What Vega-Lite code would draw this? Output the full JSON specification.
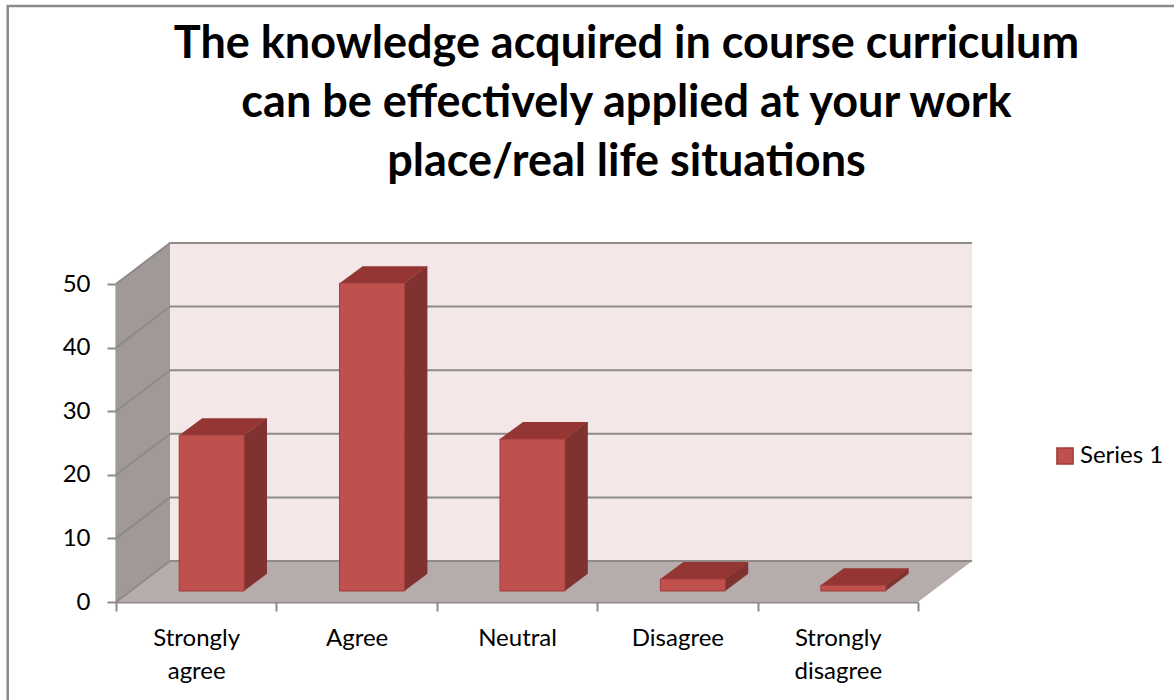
{
"$schema":"https://vega.github.io/schema/vega-lite/v6.json",
"width":857,"height":359,
"autosize":{"type":"none"},
"padding":{"left":116,"top":243,"right":201,"bottom":98},
"background":"white",
"config":{"view":{"stroke":null},"font":"Lato"},
"title":{"text":["The knowledge acquired in course curriculum","can be effectively applied at your work","place/real life situations"],"fontSize":45,"fontWeight":"bold","font":"Lato","color":"black","anchor":"middle","frame":"group","dx":82,"lineHeight":59,"offset":-184},
"datasets":{
"bars":[
{"category":"Strongly agree","series":"Series 1","value":24.5},
{"category":"Agree","series":"Series 1","value":48.4},
{"category":"Neutral","series":"Series 1","value":23.9},
{"category":"Disagree","series":"Series 1","value":1.9},
{"category":"Strongly disagree","series":"Series 1","value":0.9}],
"sides":[
{"category":"Strongly agree","edge":"front","top":24.5,"base":0},
{"category":"Strongly agree","edge":"back","top":27.2,"base":2.7},
{"category":"Agree","edge":"front","top":48.4,"base":0},
{"category":"Agree","edge":"back","top":51.1,"base":2.7},
{"category":"Neutral","edge":"front","top":23.9,"base":0},
{"category":"Neutral","edge":"back","top":26.6,"base":2.7},
{"category":"Disagree","edge":"front","top":1.9,"base":0},
{"category":"Disagree","edge":"back","top":4.6,"base":2.7},
{"category":"Strongly disagree","edge":"front","top":0.9,"base":0},
{"category":"Strongly disagree","edge":"back","top":3.6,"base":2.7}],
"walls":[
{"face":"left","u":0,"low":0,"high":50},
{"face":"left","u":0.337,"low":6.45,"high":56.45},
{"face":"back","u":0.337,"low":6.45,"high":56.45},
{"face":"back","u":5.337,"low":6.45,"high":56.45},
{"face":"floor","u":0,"low":0,"high":0},
{"face":"floor","u":0.337,"low":0,"high":6.45},
{"face":"floor","u":5,"low":0,"high":6.45},
{"face":"floor","u":5.337,"low":6.45,"high":6.45}],
"grid":[
{"g":0,"u":0,"v":0},{"g":0,"u":0.337,"v":6.45},{"g":0,"u":5.337,"v":6.45},
{"g":10,"u":0,"v":10},{"g":10,"u":0.337,"v":16.45},{"g":10,"u":5.337,"v":16.45},
{"g":20,"u":0,"v":20},{"g":20,"u":0.337,"v":26.45},{"g":20,"u":5.337,"v":26.45},
{"g":30,"u":0,"v":30},{"g":30,"u":0.337,"v":36.45},{"g":30,"u":5.337,"v":36.45},
{"g":40,"u":0,"v":40},{"g":40,"u":0.337,"v":46.45},{"g":40,"u":5.337,"v":46.45},
{"g":50,"u":0,"v":50},{"g":50,"u":0.337,"v":56.45},{"g":50,"u":5.337,"v":56.45}],
"frame":[
{"u":-0.675,"v":-15.4},{"u":-0.675,"v":93.7},{"u":6.64,"v":93.7}]
},
"layer":[
{"layer":[
{"data":{"name":"walls"},"transform":[{"filter":"datum.face==='left'"}],
 "mark":{"type":"area","color":"#a09997"},
 "encoding":{"x":{"field":"u","type":"quantitative","axis":null,"scale":{"domain":[0,5],"range":[0,802],"nice":false,"zero":false}},
 "y":{"field":"high","type":"quantitative","scale":{"domain":[0,50],"range":[359,41],"nice":false},
 "axis":{"title":null,"values":[0,10,20,30,40,50],"grid":false,"labelFontSize":24,"labelFont":"Lato","labelColor":"black","labelPadding":17,"domainColor":"#8e8a88","domainWidth":2,"tickColor":"#8e8a88","tickWidth":2,"tickSize":9}},"y2":{"field":"low"}}},
{"data":{"name":"walls"},"transform":[{"filter":"datum.face==='back'"}],
 "mark":{"type":"area","color":"#f3e8e7"},
 "encoding":{"x":{"field":"u","type":"quantitative"},
 "y":{"field":"high","type":"quantitative"},"y2":{"field":"low"}}},
{"data":{"name":"walls"},"transform":[{"filter":"datum.face==='floor'"}],
 "mark":{"type":"area","color":"#b5acab"},
 "encoding":{"x":{"field":"u","type":"quantitative"},
 "y":{"field":"high","type":"quantitative"},"y2":{"field":"low"}}},
{"data":{"name":"grid"},
 "mark":{"type":"line","color":"#8e8a88","strokeWidth":2},
 "encoding":{"x":{"field":"u","type":"quantitative"},
 "y":{"field":"v","type":"quantitative"},"detail":{"field":"g"},"order":{"field":"u"}}},
{"data":{"name":"frame"},
 "mark":{"type":"line","color":"#8a8a8a","strokeWidth":2.5},
 "encoding":{"x":{"field":"u","type":"quantitative"},
 "y":{"field":"v","type":"quantitative"},"order":{"field":"v"}}}
]},
{"layer":[
{"data":{"name":"sides"},
 "mark":{"type":"area","color":"#7f3230","yOffset":-11,"y2Offset":-11},
 "encoding":{"x":{"field":"category","type":"nominal","sort":null,"scale":{"range":[0,802],"paddingInner":0,"paddingOuter":0},
  "axis":{"orient":"bottom","tickBand":"extent","title":null,"labelExpr":"split(datum.label,' ')","labelAngle":0,"labelFontSize":24,"labelFont":"Lato","labelColor":"black","labelLineHeight":33,"labelPadding":15,"domainColor":"#8e8a88","domainWidth":2,"tickColor":"#8e8a88","tickWidth":2,"tickSize":9}},
  "xOffset":{"field":"edge","type":"nominal","scale":{"type":"point","padding":0,"domain":["front","back"],"range":[128,151]}},
  "y":{"field":"top","type":"quantitative"},
  "y2":{"field":"base"},"detail":{"field":"category"}}},
{"data":{"name":"bars"},
 "mark":{"type":"point","shape":"M-32.5,0L32.5,0L55.5,-17L-9.5,-17Z","size":4,"filled":true,"opacity":1,"color":"#943634","xOffset":15.5,"yOffset":-11},
 "encoding":{"x":{"field":"category","type":"nominal","sort":null},"y":{"field":"value","type":"quantitative"}}},
{"data":{"name":"bars"},
 "mark":{"type":"bar","width":65,"xOffset":15.5,"yOffset":-11,"y2Offset":-11,"stroke":"#a03c39","strokeWidth":1},
 "encoding":{"x":{"field":"category","type":"nominal","sort":null},"y":{"field":"value","type":"quantitative"},
 "color":{"field":"series","type":"nominal","scale":{"range":["#c0504d"]},
 "legend":{"title":null,"orient":"none","legendX":937,"legendY":201,"symbolType":"square","symbolSize":260,"symbolStrokeColor":"#a03c39","symbolStrokeWidth":1.5,"labelFontSize":24,"labelFont":"Lato","labelColor":"black","labelOffset":3}}}}
]}
],
"resolve":{"scale":{"x":"independent"},"axis":{"x":"independent"}}
}
